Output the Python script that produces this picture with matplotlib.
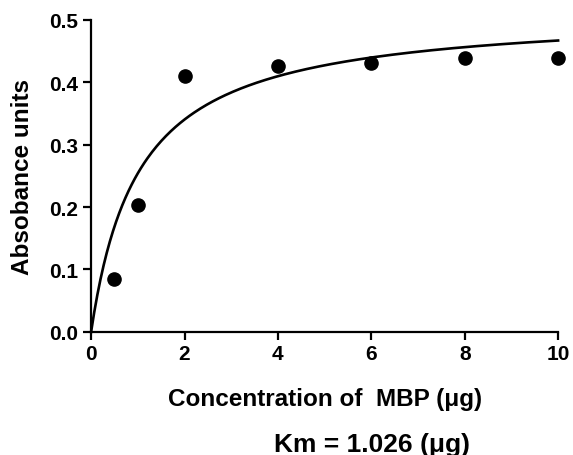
import numpy as np
import matplotlib
matplotlib.use("Agg")
import matplotlib.pyplot as plt

plt.rcParams['font.family'] = ['Liberation Sans', 'DejaVu Sans']
plt.rcParams['font.weight'] = 'bold'

# measured points
conc = [0.5, 1, 2, 4, 6, 8, 10]
absorb = [0.084, 0.203, 0.410, 0.426, 0.431, 0.439, 0.439]

# Michaelis-Menten fit
Km = 1.026
Vmax = 0.515

xticks = [0, 2, 4, 6, 8, 10]
yticks = [0.0, 0.1, 0.2, 0.3, 0.4, 0.5]

fig = plt.figure(figsize=(5.73, 4.56), dpi=100)
ax = fig.add_axes([0.159, 0.270, 0.815, 0.684])

xf = np.linspace(0, 10, 300)
ax.plot(xf, Vmax * xf / (Km + xf), color='black', lw=1.9, clip_on=False)
ax.plot(conc, absorb, 'o', color='black', ms=9.5, clip_on=False)

ax.set_xlim(0, 10)
ax.set_ylim(0, 0.5)
ax.set_xticks(xticks)
ax.set_yticks(yticks)
ax.set_xticklabels([str(t) for t in xticks])
ax.set_yticklabels(['%.1f' % t for t in yticks])
for s in ['top', 'right']:
    ax.spines[s].set_visible(False)
for s in ['left', 'bottom']:
    ax.spines[s].set_linewidth(1.6)
ax.tick_params(direction='out', length=6, width=1.6, labelsize=15, pad=3)
for lab in ax.get_xticklabels() + ax.get_yticklabels():
    lab.set_fontweight('bold')

ax.set_ylabel('Absobance units', fontsize=17.5, fontweight='bold')
ax.yaxis.set_label_coords(-0.123, 0.5)
ax.set_xlabel('Concentration of  MBP (μg)', fontsize=17.5, fontweight='bold')
ax.xaxis.set_label_coords(0.5, -0.176)
fig.text(372 / 573, 1 - 445 / 456, 'Km = 1.026 (μg)', fontsize=19, fontweight='bold',
         ha='center', va='center')

fig.savefig('out.png', dpi=100)
